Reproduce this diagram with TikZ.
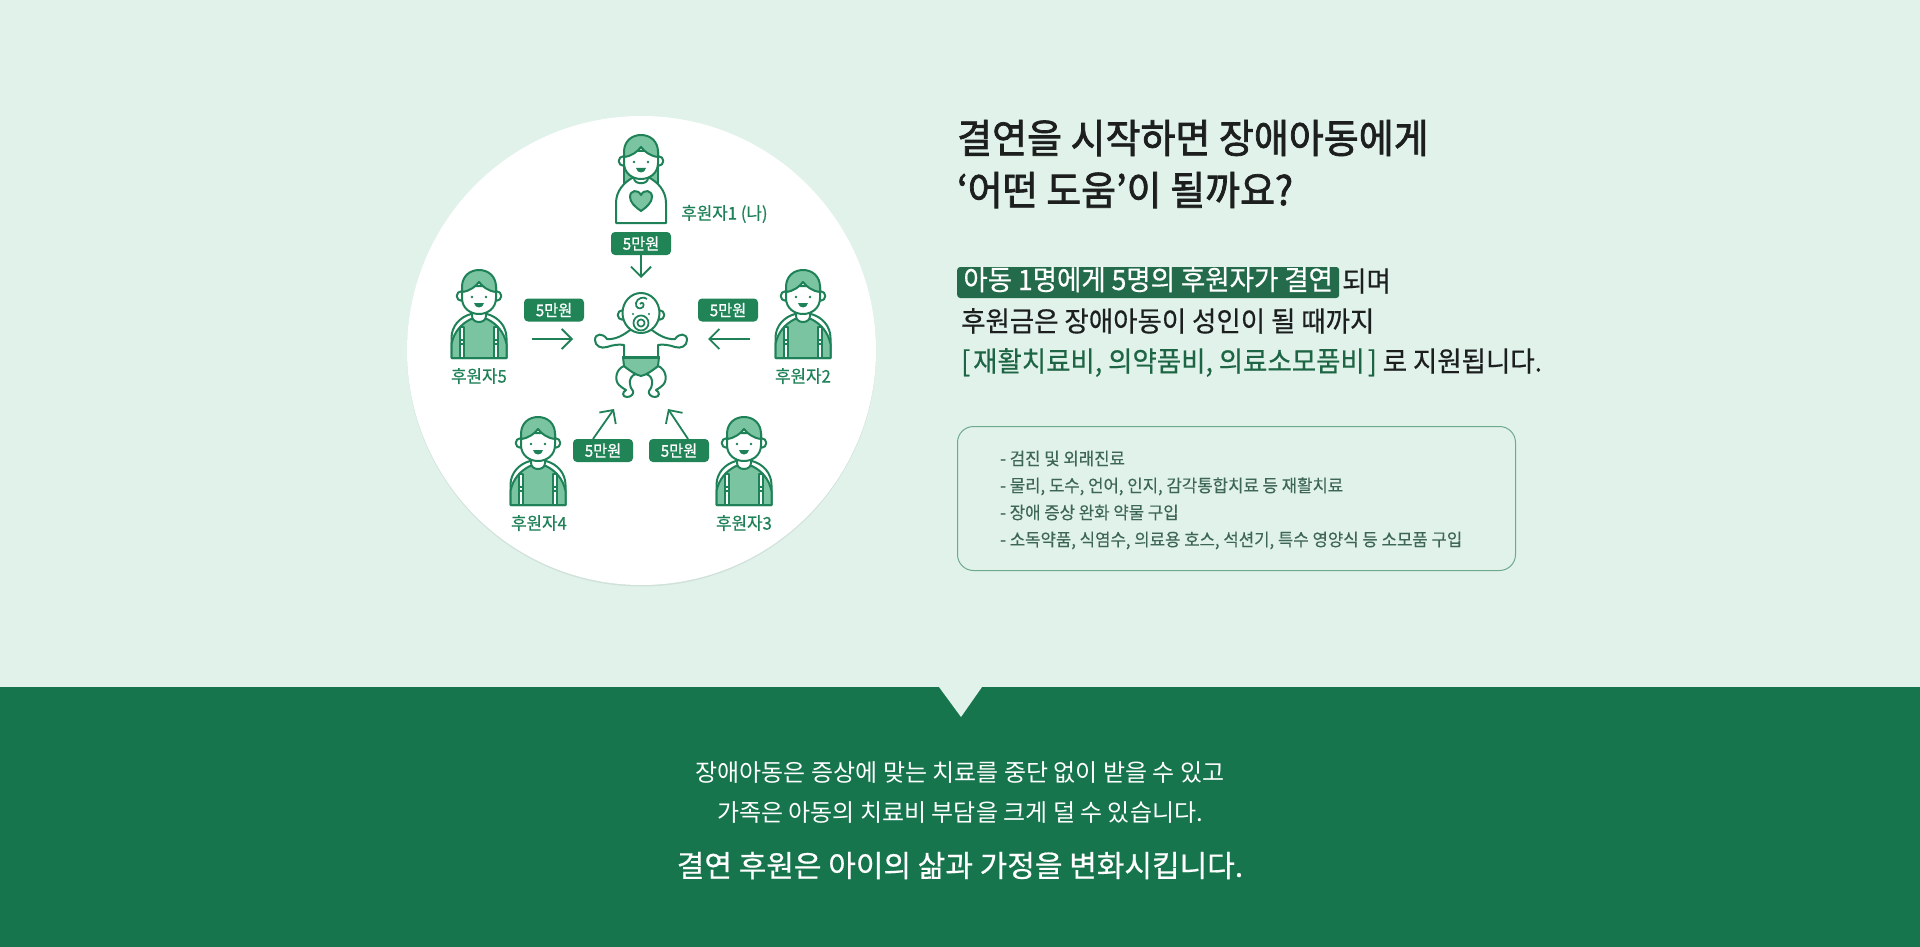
\documentclass[tikz,border=0pt]{standalone}
\usepackage{fontspec}
\usepackage{tikz}
\usetikzlibrary{arrows.meta}
\setmainfont{Noto Sans CJK KR}
\newfontfamily\krhead[FakeStretch=.95,FakeBold=1.8]{Noto Sans CJK KR}
\newfontfamily\krbody[FakeStretch=.945,FakeBold=.5]{Noto Sans CJK KR}
\newfontfamily\krnote[FakeStretch=.956,FakeBold=.2]{Noto Sans CJK KR}
\newfontfamily\krlabel[FakeStretch=.96,FakeBold=.35]{Noto Sans CJK KR}
\newfontfamily\krmoney[FakeStretch=.95,FakeBold=.9]{Noto Sans CJK KR}
\newfontfamily\krband[FakeStretch=1]{Noto Sans CJK KR}
\newfontfamily\krbandbig[FakeStretch=1,FakeBold=.6]{Noto Sans CJK KR}
\definecolor{pagebg}{HTML}{E0F2EA}
\definecolor{bandbg}{HTML}{16754D}
\definecolor{figline}{HTML}{1E8157}
\definecolor{figfill}{HTML}{7BC4A2}
\definecolor{moneybg}{HTML}{208457}
\definecolor{markbg}{HTML}{236B4A}
\definecolor{itemgreen}{HTML}{1D6544}
\definecolor{boxline}{HTML}{6FA98E}
\definecolor{notetext}{HTML}{3E6655}
\definecolor{headtext}{HTML}{1C1F1E}
\tikzstyle{ink} = [draw=figline, line width=2pt, line join=round]
\tikzstyle{money} = [fill=moneybg, text=white, rounded corners=4pt, minimum width=60pt, minimum height=23pt, inner sep=0pt, font=\krmoney\fontsize{16}{16}\selectfont]
\tikzstyle{donor} = [text=figline, inner sep=0pt, font=\krlabel\fontsize{17.5}{18}\selectfont]
\tikzstyle{flow} = [draw=figline, line width=1.8pt, -{Straight Barb[length=10pt,width=20pt]}]
\tikzstyle{headline} = [anchor=west, inner sep=0pt, text=headtext, text height=28pt, text depth=6pt, font=\krhead\fontsize{40}{40}\selectfont]
\tikzstyle{bodyline} = [anchor=west, inner sep=0pt, text=headtext, text height=20pt, text depth=5pt, font=\krbody\fontsize{28}{28}\selectfont]
\tikzstyle{noteline} = [anchor=west, inner sep=0pt, text=notetext, text height=13pt, text depth=3pt, font=\krnote\fontsize{17.5}{18}\selectfont]
\tikzstyle{bandline} = [inner sep=0pt, text=white, font=\krband\fontsize{24}{24}\selectfont]

\newcommand{\facehead}{
	\draw[ink, fill=white] (-17.5,26) circle[radius=4.8];
	\draw[ink, fill=white] (17.5,26) circle[radius=4.8];
	\draw[ink, fill=white] (-17,16) -- (-17,28) .. controls (-17,38) and (-9,44) .. (0,44) .. controls (9,44) and (17,38) .. (17,28) -- (17,16) -- cycle;
	\draw[ink, fill=figfill] (-17,22) -- (-17,17) .. controls (-17,6) and (-9,0) .. (0,0) .. controls (9,0) and (17,6) .. (17,17) -- (17,22) .. controls (9,21) and (4,17) .. (0,12) .. controls (-4,17) and (-9,21) .. (-17,22) -- cycle;
	\fill[figline] (-7,27) circle[radius=1.4];
	\fill[figline] (7,27) circle[radius=1.4];
	\fill[figline] (-5,33) -- (5,33) .. controls (4,39) and (-4,39) .. (-5,33) -- cycle;
}
\newcommand{\donorboy}[2]{
	\begin{scope}[shift={(#1,#2)}]
	\draw[ink, fill=white] (-27.5,88) -- (-27.5,68) .. controls (-27.5,56) and (-19,47) .. (-8,44) -- (8,44) .. controls (19,47) and (27.5,56) .. (27.5,68) -- (27.5,88) -- cycle;
	\draw[ink, fill=figfill] (-27.5,88) -- (-27.5,74) .. controls (-25,62) and (-18,54) .. (-8,49) -- (8,49) .. controls (18,54) and (25,62) .. (27.5,74) -- (27.5,88) -- cycle;
	\draw[ink, fill=white, line width=1.6pt] (-19,57) rectangle (-15,88);
	\draw[ink, fill=white, line width=1.6pt] (15,57) rectangle (19,88);
	\draw[ink, line width=1.6pt] (-19,70) -- (-15,70) (-19,74) -- (-15,74);
	\draw[ink, line width=1.6pt] (15,70) -- (19,70) (15,74) -- (19,74);
	\draw[ink, fill=white] (-7,40) -- (-7,46) .. controls (-7,54) and (7,54) .. (7,46) -- (7,40) -- cycle;
	\facehead
	\end{scope}
}
\newcommand{\donormom}[2]{
	\begin{scope}[shift={(#1,#2)}]
	\draw[ink, fill=figfill] (-17,16) -- (-17,50) -- (17,50) -- (17,16) -- cycle;
	\draw[ink, fill=white] (-25,88) -- (-25,68) .. controls (-25,56) and (-17,47) .. (-7,42) -- (7,42) .. controls (17,47) and (25,56) .. (25,68) -- (25,88) -- cycle;
	\draw[ink, fill=white] (-7,38) -- (-7,43) .. controls (-7,50) and (7,50) .. (7,43) -- (7,38) -- cycle;
	\facehead
	\draw[ink, fill=figfill] (0,76) .. controls (-6,72) and (-11,67) .. (-11,62) .. controls (-11,55) and (-3,54) .. (0,60) .. controls (3,54) and (11,55) .. (11,62) .. controls (11,67) and (6,72) .. (0,76) -- cycle;
	\end{scope}
}
\newcommand{\babyfig}[2]{
	\begin{scope}[shift={(#1,#2)}]
	% legs
	\draw[ink, fill=white] (-17,73) .. controls (-25,76) and (-27,87) .. (-22,92) .. controls (-20,95) and (-17,95) .. (-15,97) .. controls (-19,99) and (-19,104) .. (-14,104) .. controls (-10,104) and (-7,101) .. (-8,98) .. controls (-9,95) and (-12,94) .. (-11,91) .. controls (-12,86) and (-9,82) .. (-5,81) -- cycle;
	\draw[ink, fill=white] (17,73) .. controls (25,76) and (27,87) .. (22,92) .. controls (20,95) and (17,95) .. (15,97) .. controls (19,99) and (19,104) .. (14,104) .. controls (10,104) and (7,101) .. (8,98) .. controls (9,95) and (12,94) .. (11,91) .. controls (12,86) and (9,82) .. (5,81) -- cycle;
	% arms
	\draw[ink, fill=white] (-11,37) .. controls (-16,41) and (-25,47) .. (-34,46) .. controls (-38,40) and (-46,40) .. (-46,47) .. controls (-46,53) and (-40,56) .. (-34,54) .. controls (-28,52) and (-22,51) .. (-17,52) -- (-17,64) -- (17,64) -- (17,52) .. controls (22,51) and (28,52) .. (34,54) .. controls (40,56) and (46,53) .. (46,47) .. controls (46,40) and (38,40) .. (34,46) .. controls (25,47) and (16,41) .. (11,37) -- cycle;
	% diaper
	\draw[ink, fill=figfill] (-18,64) -- (18,64) -- (17,73) .. controls (11,78) and (5,82) .. (0,83) .. controls (-5,82) and (-11,78) .. (-17,73) -- cycle;
	\draw[figline, line width=3pt] (-18,64) -- (18,64);
	% head
	\draw[ink, fill=white] (-18.5,22) circle[radius=4.8];
	\draw[ink, fill=white] (18.5,22) circle[radius=4.8];
	\draw[ink, fill=white] (0,20) ellipse[x radius=18.5, y radius=20];
	\draw[ink, line width=1.7pt] (-1,11) .. controls (1,8) and (4,11) .. (2,14) .. controls (-1,17) and (-6,15) .. (-5,10) .. controls (-4,5) and (3,3) .. (6,6);
	\draw[ink, line width=1.7pt] (0,30) circle[radius=7.5];
	\draw[ink, line width=1.7pt] (0,30) circle[radius=3.6];
	\fill[figline] (-8,21) circle[radius=1.2];
	\fill[figline] (8,21) circle[radius=1.2];
	\end{scope}
}

\begin{document}
\begin{tikzpicture}[x=1pt, y=-1pt]
	\useasboundingbox (0,0) rectangle (1920,947);
	% background
	\fill[pagebg] (0,0) rectangle (1920,947);
	\fill[bandbg] (0,687) rectangle (1920,947);
	\fill[pagebg] (939,687) -- (982,687) -- (961,717) -- cycle;
	\fill[black!7!pagebg] (641.5,352) circle[radius=234.5];
	\fill[white] (641.5,350.5) circle[radius=234.5];

	% people
	\donormom{641}{135}
	\donorboy{803}{270}
	\donorboy{744}{417}
	\donorboy{538}{417}
	\donorboy{479}{270}
	\babyfig{641}{293}

	\node[donor] (namea) at (724.5,214) {후원자1 (나)};
	\node[donor] (nameb) at (803,376) {후원자2};
	\node[donor] (namec) at (744,523) {후원자3};
	\node[donor] (named) at (539,523) {후원자4};
	\node[donor] (namee) at (479,376) {후원자5};

	\node[money] (moneya) at (641,243.5) {5만원};
	\node[money] (moneyb) at (728,310) {5만원};
	\node[money] (moneyc) at (679,450.5) {5만원};
	\node[money] (moneyd) at (603,450.5) {5만원};
	\node[money] (moneye) at (554,310) {5만원};

	% arrows
	\coordinate (babytop) at (641,278);
	\coordinate (babyright) at (708,339);
	\coordinate (babyleft) at (573,339);
	\coordinate (babylowr) at (668,409);
	\coordinate (babylowl) at (614,409);
	\coordinate (startb) at (750,339);
	\coordinate (starte) at (532,339);
	\coordinate (startc) at (688,439);
	\coordinate (startd) at (593,439);
	\draw[flow] (moneya.south) -- (babytop);
	\draw[flow] (startb) -- (babyright);
	\draw[flow] (startc) -- (babylowr);
	\draw[flow] (startd) -- (babylowl);
	\draw[flow] (starte) -- (babyleft);

	% right column
	\node[headline] (heada) at (957,142) {결연을 시작하면 장애아동에게};
	\node[headline] (headb) at (957,194) {‘어떤 도움’이 될까요?};

	\node[fill=markbg, rounded corners=3pt, anchor=west, minimum width=382pt, minimum height=31pt, inner sep=0pt, text=white, text height=20pt, text depth=5pt, font=\krbody\fontsize{28}{28}\selectfont] (mark) at (957,282.5) {아동 1명에게 5명의 후원자가 결연};
	\node[bodyline] (marktail) at (1342,284) {되며};
	\node[bodyline] (bodya) at (961,324) {후원금은 장애아동이 성인이 될 때까지};
	\node[bodyline] (bodyb) at (961,364) {\textcolor{itemgreen}{[\kern3pt 재활치료비, 의약품비, 의료소모품비\kern3pt ]} 로 지원됩니다.};

	\draw[boxline, line width=1pt, rounded corners=16pt] (957.5,426.5) rectangle (1515.5,570.5);
	\node[noteline] (notea) at (1000,460) {- 검진 및 외래진료};
	\node[noteline] (noteb) at (1000,487) {- 물리, 도수, 언어, 인지, 감각통합치료 등 재활치료};
	\node[noteline] (notec) at (1000,514) {- 장애 증상 완화 약물 구입};
	\node[noteline] (noted) at (1000,541) {- 소독약품, 식염수, 의료용 호스, 석션기, 특수 영양식 등 소모품 구입};

	% band text
	\node[bandline] (banda) at (960,773) {장애아동은 증상에 맞는 치료를 중단 없이 받을 수 있고};
	\node[bandline] (bandb) at (960,813) {가족은 아동의 치료비 부담을 크게 덜 수 있습니다.};
	\node[bandline, font=\krbandbig\fontsize{30}{30}\selectfont] (bandc) at (960,865.5) {결연 후원은 아이의 삶과 가정을 변화시킵니다.};
\end{tikzpicture}
\end{document}
